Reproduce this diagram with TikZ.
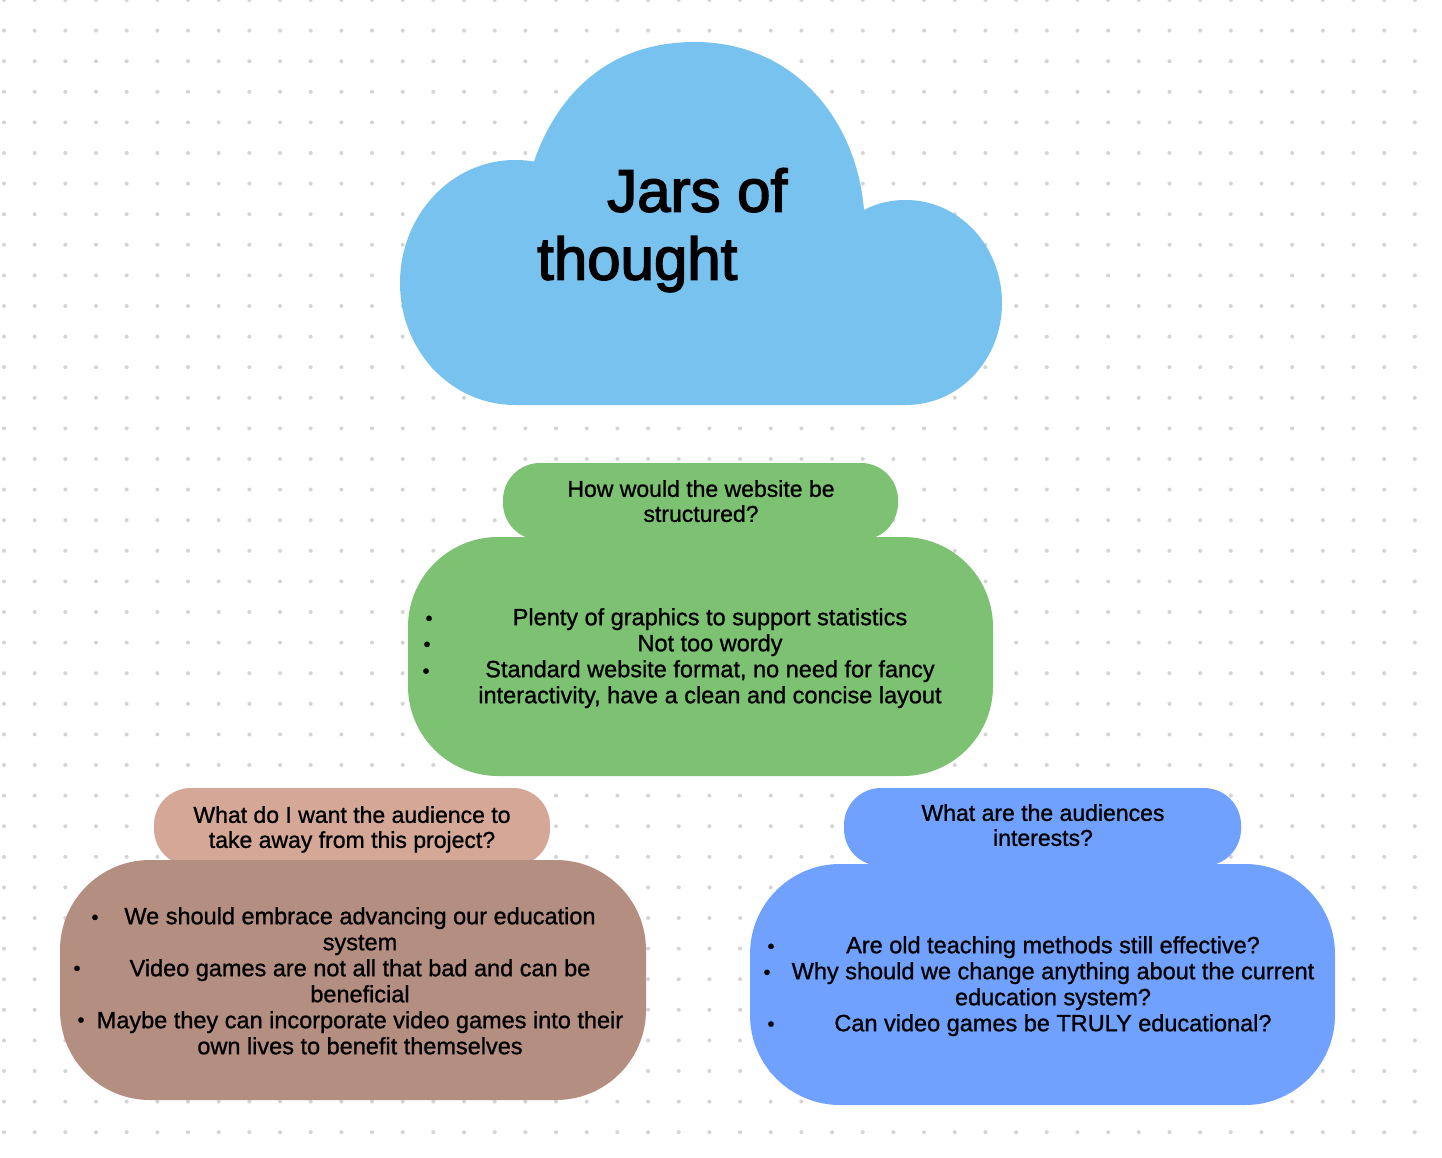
\documentclass[tikz,border=0pt]{standalone}
\usepackage{fontspec}
\setmainfont{Liberation Sans}
\newfontfamily\medfont[FakeBold=1]{Liberation Sans}
\newfontfamily\heavyfont[FakeBold=2.5]{Liberation Sans}
\definecolor{cloudblue}{RGB}{120,194,240}
\definecolor{jgreen}{RGB}{125,194,115}
\definecolor{jpink}{RGB}{212,167,151}
\definecolor{jbrown}{RGB}{180,142,128}
\definecolor{jblue}{RGB}{112,161,255}
\definecolor{dotgray}{RGB}{212,212,212}
\tikzset{
  pill/.style={rounded corners=37pt},
  mainbox/.style={rounded corners=90pt},
  titletxt/.style={inner sep=0pt, anchor=north west, align=left, font=\heavyfont\fontsize{60}{68}\selectfont},
  pilltxt/.style={inner sep=0pt, anchor=north, align=center, font=\medfont\fontsize{23}{25}\selectfont},
  bodytxt/.style={inner sep=0pt, anchor=north, align=center, font=\medfont\fontsize{23.5}{26}\selectfont},
  bul/.style={inner sep=0pt, anchor=base, font=\medfont\fontsize{20}{20}\selectfont}
}
\begin{document}
\begin{tikzpicture}[x=1pt,y=-1pt]
\useasboundingbox (0,0) rectangle (1442,1158);
\fill[white] (0,0) rectangle (1442,1158);
% dot grid
\foreach \i in {0,...,46}{
  \foreach \j in {0,...,37}{
    \fill[dotgray] ({4+30.67*\i},{30.6*\j}) circle[radius=2pt];
  }
}
% cloud
\fill[cloudblue] (515,405) .. controls (451.5,405) and (400,350.9) .. (400,283)
  .. controls (400,215.1) and (451.5,160) .. (515,160)
  .. controls (522,160) and (528,160.5) .. (534,161.5)
  .. controls (556,98) and (605,42) .. (695,42)
  .. controls (790,42) and (856,115) .. (864,210)
  .. controls (877,203) and (891,200) .. (906,200)
  .. controls (959,200) and (1002,246) .. (1002,303)
  .. controls (1002,360) and (959,405) .. (906,405) -- cycle;
\node[titletxt] (title) at (537,168) {\hspace*{70pt}Jars of\\thought};
% green group
\fill[jgreen, pill] (503,463) rectangle (898,540);
\fill[jgreen, mainbox] (408,537) rectangle (993,776);
\node[pilltxt] (gq) at (701,480) {How would the website be\\structured?};
\node[bodytxt] (gbody) at (710,608) {Plenty of graphics to support statistics\\Not too wordy\\Standard website format, no need for fancy\\interactivity, have a clean and concise layout};
\node[bul] (gb1) at (429,625) {•};
\node[bul] (gb2) at (427,651) {•};
\node[bul] (gb3) at (426,677.7) {•};
% brown group
\fill[jpink, pill] (154,788) rectangle (550,866);
\fill[jbrown, mainbox] (60,860) rectangle (646,1100);
\node[pilltxt] (bq) at (352,806) {What do I want the audience to\\take away from this project?};
\node[bodytxt] (bbody) at (360,907) {We should embrace advancing our education\\system\\Video games are not all that bad and can be\\beneficial\\Maybe they can incorporate video games into their\\own lives to benefit themselves};
\node[bul] (bb1) at (95,924) {•};
\node[bul] (bb2) at (77,975) {•};
\node[bul] (bb3) at (81,1026.7) {•};
% blue group
\fill[jblue, pill] (844,788) rectangle (1241,866);
\fill[jblue, mainbox] (750,864) rectangle (1335,1105);
\node[pilltxt] (uq) at (1043,804) {What are the audiences\\interests?};
\node[bodytxt] (ubody) at (1053,936) {Are old teaching methods still effective?\\Why should we change anything about the current\\education system?\\Can video games be TRULY educational?};
\node[bul] (ub1) at (771,953) {•};
\node[bul] (ub2) at (767,979) {•};
\node[bul] (ub3) at (771,1030.7) {•};
\end{tikzpicture}
\end{document}
